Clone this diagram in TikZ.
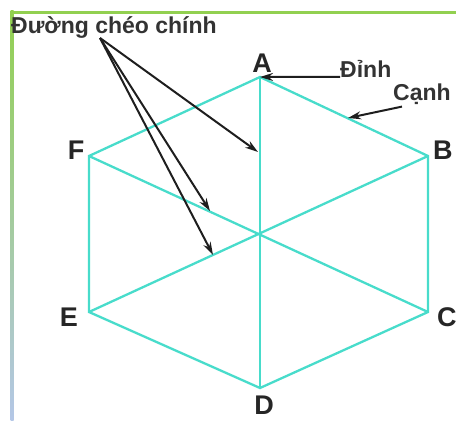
\documentclass[tikz,border=0pt]{standalone}
\usepackage{fontspec}
\setmainfont{Liberation Sans}
\usepackage{xcolor}
\definecolor{hexcyan}{HTML}{48DCCB}
\definecolor{framegreen}{HTML}{92D050}
\definecolor{frameblue}{HTML}{B4C7E7}
\definecolor{arrowgray}{HTML}{1E1E1E}
\usetikzlibrary{arrows.meta, positioning, calc}

\begin{document}
\begin{tikzpicture}[
  x=1pt, y=-1pt,
  edge/.style={draw=hexcyan, line width=2.3pt},
  vlabel/.style={font=\fontsize{27}{27}\selectfont\bfseries, text=black!85, inner sep=0pt},
  note/.style={font=\fontsize{23}{23}\selectfont\bfseries, text=black!80, inner sep=0pt},
  pointer/.style={-{Stealth[length=13pt, width=8pt]}, line width=2pt, color=arrowgray}
]
  \useasboundingbox (0,0) rectangle (456,421);

  % frame
  \draw[framegreen, line width=3pt] (11,12) -- (460,12);
  \shade[top color=framegreen, bottom color=frameblue] (10.5,10.5) rectangle (13.5,421);

  % hexagon corners
  \coordinate (A) at (260,77);
  \coordinate (B) at (428,156);
  \coordinate (C) at (428,312);
  \coordinate (D) at (260,388);
  \coordinate (E) at (89,312);
  \coordinate (F) at (89,156);
  \coordinate (O) at (260,234);

  \draw[edge] (A) -- (B) -- (C) -- (D) -- (E) -- (F) -- cycle;
  \draw[edge] (A) -- (D);
  \draw[edge] (F) -- (C);
  \draw[edge] (E) -- (B);

  % corner names
  \node[vlabel] (labA) at (262,63) {A};
  \node[vlabel, anchor=west] (labB) at (433,150) {B};
  \node[vlabel, anchor=west] (labC) at (437,317) {C};
  \node[vlabel] (labD) at (264,405) {D};
  \node[vlabel] (labE) at (69,317) {E};
  \node[vlabel] (labF) at (76,150) {F};

  % notes
  \node[note, anchor=west, font=\fontsize{23}{23}\selectfont\bfseries] (diag) at (11,27) {Đường chéo chính};
  \node[note, anchor=west] (vertex) at (340,69) {Đỉnh};
  \node[note, anchor=west] (side) at (393,94) {Cạnh};

  \coordinate (src) at (100,38);
  \coordinate (tipAD) at (258,152);
  \coordinate (tipFC) at (210,211);
  \coordinate (tipEB) at (213,255);
  \coordinate (tipAB) at (348,118);

  \draw[pointer] (src) -- (tipAD);
  \draw[pointer] (src) -- (tipFC);
  \draw[pointer] (src) -- (tipEB);
  \draw[pointer] (vertex.south west) ++(0,-1) -- (A);
  \draw[pointer] (side.south west) ++(9,2) -- (tipAB);
\end{tikzpicture}
\end{document}
